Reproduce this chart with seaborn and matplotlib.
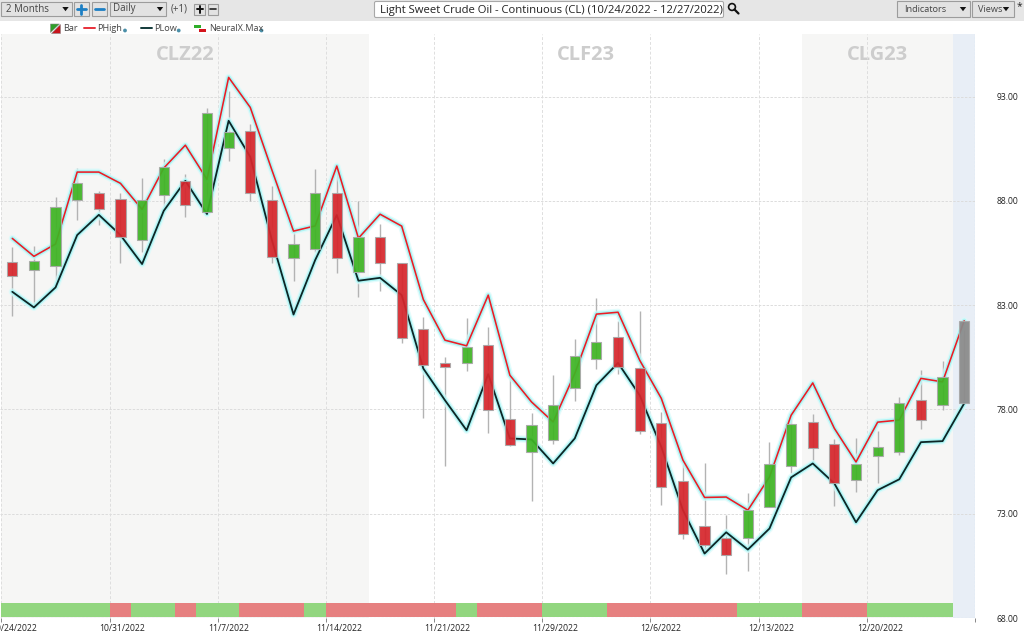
import matplotlib
matplotlib.use("Agg")
import matplotlib.pyplot as plt
import matplotlib.patheffects as pe
from matplotlib.patches import Rectangle, Polygon, Circle, FancyBboxPatch
from matplotlib.transforms import offset_copy
import numpy as np
import pandas as pd
import seaborn as sns

open_ = [85.08,84.69,84.87,88.02,88.40,88.08,86.10,88.28,88.95,87.47,90.54,91.36,88.04,85.27,85.67,88.40,
         84.58,86.26,85.00,81.85,80.23,80.22,81.10,77.52,75.95,76.54,79.02,80.42,81.48,80.01,77.36,74.56,
         72.40,71.84,71.83,73.30,75.29,77.39,76.32,74.61,75.77,75.98,78.43,78.19,78.29]
close = [84.42,85.12,87.71,88.84,87.60,86.25,88.02,89.63,87.78,92.19,91.31,88.40,85.32,85.91,88.36,85.24,
         86.26,85.00,81.42,80.11,80.04,80.97,77.95,76.29,77.25,78.20,80.55,81.24,80.04,76.96,74.27,72.03,
         71.49,71.04,73.20,75.39,77.29,76.16,74.48,75.37,76.22,78.29,77.50,79.56,82.25]
high = [85.77,85.83,88.19,89.56,88.48,88.36,89.11,89.99,89.28,92.43,93.28,91.68,88.71,86.52,89.51,89.71,
        87.99,86.89,85.01,82.41,80.49,82.36,81.93,79.64,77.85,79.63,81.40,83.35,82.23,82.73,77.88,75.36,
        75.44,72.93,73.99,76.42,77.72,77.80,76.56,76.62,76.96,78.60,79.88,80.33,82.25]
low = [82.47,82.92,83.82,87.08,86.84,85.00,85.56,87.56,87.23,87.32,89.92,88.00,85.00,84.17,85.56,84.55,
       83.40,83.69,81.19,77.59,75.29,79.85,76.85,76.24,73.61,76.32,78.41,79.96,79.69,76.80,73.41,71.78,
       71.11,70.10,70.26,73.30,74.93,75.41,73.39,74.05,74.46,75.81,77.04,77.97,78.29]
phigh = [86.20,85.34,85.93,89.38,89.38,88.84,87.59,89.57,90.67,89.03,93.92,92.48,89.48,86.55,86.80,89.67,
         86.21,87.36,86.79,83.27,81.32,81.05,83.48,79.64,78.36,77.40,79.72,82.57,82.66,80.36,78.53,75.57,
         73.78,73.80,73.17,74.76,77.72,79.27,77.09,75.48,77.39,77.49,79.49,79.32,82.25]
plow = [83.64,82.89,83.85,86.36,87.33,86.36,84.97,87.52,88.96,87.37,91.84,90.11,86.12,82.55,85.16,87.32,
        84.17,84.31,83.48,79.96,78.44,77.00,79.69,76.61,76.56,75.41,76.61,79.16,80.23,78.68,76.20,73.17,
        71.09,72.11,71.28,72.29,74.74,75.41,74.45,72.59,74.13,74.65,76.43,76.48,78.29]
signal = list("GGGGGRGGRGGRRRGRRRRRRGRRRGGGRRRRRRGGGRRRGGGG") + [""]
date_labels = ["10/24/2022","10/31/2022","11/7/2022","11/14/2022","11/21/2022",
               "11/29/2022","12/6/2022","12/13/2022","12/20/2022",""]
date_positions = [-0.5,4.5,9.5,14.5,19.5,24.5,29.5,34.5,39.5,44.5]
price_ticks = [68,73,78,83,88,93]
contracts = ["CLZ22","CLF23","CLG23"]
contract_spans = [(-0.5,16.5),(16.5,36.5),(36.5,43.5)]
contract_fill = ["#f6f6f5","#ffffff","#f6f6f5"]

FONT = "Open Sans"
sns.set_theme(style="white")
plt.rcParams["font.family"] = [FONT, "DejaVu Sans"]

fig = plt.figure(figsize=(10.24, 6.39), dpi=100, facecolor="white")
ax = fig.add_axes([0, (639-618)/639, 975/1024, (618-34)/639])
df = pd.DataFrame({"i": np.arange(len(open_)), "open": open_, "close": close, "high": high,
                   "low": low, "PHigh": phigh, "PLow": plow})
ax.set_xlim(-0.568, 44.5)
ax.set_ylim(68, 96)
ax.set_facecolor("white")

# contract zones
for name, (a, b), c in zip(contracts, contract_spans, contract_fill):
    ax.axvspan(a, b, color=c, lw=0, zorder=0)
    ax.text((a+b)/2, 95.0, name, ha="center", va="center", fontsize=14.5, fontweight="bold",
            color="#cdcdcd", zorder=1)
ax.axvspan(43.5, 44.5, color="#e8eef6", lw=0, zorder=0)

# grid
for yv in price_ticks:
    ax.axhline(yv, color="#dcdcdc", lw=0.7, ls=(0, (2.5, 1.5)), zorder=1)
for xv in date_positions[:-1]:
    ax.axvline(xv, color="#dedede", lw=0.7, ls=(0, (3, 2)), zorder=1)
ax.axvline(44.5, color="#a5cdea", lw=0.8, ls=(0, (2, 1.5)), zorder=1)
ax.axhline(68.02, color="#bcd8ee", lw=0.8, ls=(0, (2, 1.5)), zorder=1)

# lines with glow
glow = [pe.Stroke(linewidth=5.2, foreground="#d8fbfb", alpha=0.7),
        pe.Stroke(linewidth=3.2, foreground="#a8f4f4", alpha=0.9), pe.Normal()]
sns.lineplot(data=df, x="i", y="PHigh", ax=ax, color="#ec1c24", lw=1.15, zorder=3,
             path_effects=glow, errorbar=None, sort=False)
sns.lineplot(data=df, x="i", y="PLow", ax=ax, color="#0c2626", lw=1.3, zorder=3,
             path_effects=glow, errorbar=None, sort=False)

# wicks
ax.vlines(df["i"], df["low"], df["high"], color="#b3b3b3", lw=1.0, zorder=2)

# bodies
GREEN, RED, GRAY = "#3fb424", "#d6262c", "#8a8a8a"
cols = [GREEN if c > o else RED for o, c in zip(open_, close)]
cols[-1] = GRAY
bot = np.minimum(open_, close)
ax.bar(df["i"], np.abs(df["close"]-df["open"]), bottom=bot, width=0.47, color=cols, alpha=0.93,
       edgecolor="#a9a9a9", linewidth=0.8, zorder=4)

# signal strip
strip_col = {"G": "#92d67f", "R": "#e68080"}
for i, s in enumerate(signal):
    if s:
        ax.bar(i, 0.67, bottom=68.03, width=1.0, color=strip_col[s], lw=0, zorder=2.5)

ax.set_xlabel(""); ax.set_ylabel("")
sns.despine(ax=ax, left=True, right=True, top=True, bottom=True)
ax.yaxis.tick_right()
ax.set_yticks(price_ticks)
ax.set_yticklabels([f"{v:.2f}" for v in price_ticks], fontsize=6.2, color="#222222", ha="left")
ax.tick_params(axis="y", length=0, pad=15.8)
ax.set_xticks(date_positions)
ax.set_xticklabels(date_labels, fontsize=6.2, color="#222222", ha="left")
ax.tick_params(axis="x", length=3, width=0.7, color="#888888", pad=1.2, bottom=True)
for lab in ax.get_xticklabels():
    lab.set_transform(offset_copy(lab.get_transform(), fig=fig, x=-10, y=0, units="dots"))
ax.patch.set_clip_on(False)

# application chrome, in pixels
ui = fig.add_axes([0, 0, 1, 1], zorder=10)
ui.set_xlim(0, 1024); ui.set_ylim(639, 0); ui.axis("off"); ui.patch.set_alpha(0)
ui.add_patch(Rectangle((0, 0), 1024, 20.5, fc="#e6e6e6", ec="none"))

def box(x0, x1, y0=2, y1=16, fc="#e2e2e2", ec="#9c9c9c"):
    ui.add_patch(Rectangle((x0, y0), x1-x0, y1-y0, fc=fc, ec=ec, lw=0.8))

def tri(x, y=9, s=3.2):
    ui.add_patch(Polygon([(x-s, y-2), (x+s, y-2), (x, y+2.2)], fc="#111111", ec="none"))

def label(x, y, s, size=7, color="#444444", ha="left", **kw):
    ui.text(x, y, s, fontsize=size, color=color, ha=ha, va="center", **kw)

box(1, 71.5); label(5.5, 9, "2 Months"); tri(65.5)
box(73.5, 88.5); box(92, 106.5)
ui.plot([76.5, 85.5], [9, 9], color="#1c7fc4", lw=2)
ui.plot([81, 81], [4.5, 13.5], color="#1c7fc4", lw=2)
ui.plot([94.5, 103.5], [9, 9], color="#1c7fc4", lw=2)
box(109.5, 166); label(113.5, 9, "Daily"); tri(160)
label(171, 9, "(+1)")
box(194, 205, 4, 14.5); box(207.5, 218, 4, 14.5)
ui.plot([196.5, 203], [9.2, 9.2], color="#111111", lw=1.4)
ui.plot([199.7, 199.7], [6, 12.5], color="#111111", lw=1.4)
ui.plot([210, 216], [9.2, 9.2], color="#222222", lw=1.2)

ui.add_patch(FancyBboxPatch((374.5, 1.5), 349, 16, boxstyle="round,pad=0,rounding_size=1.5",
                            fc="white", ec="#a8a8a8", lw=0.8))
label(379.5, 10, "Light Sweet Crude Oil - Continuous (CL) (10/24/2022 - 12/27/2022)", size=8.1, color="#222222")
ui.add_patch(Circle((732, 7), 3.4, fc="none", ec="#111111", lw=1.2))
ui.plot([734.5, 738.5], [9.5, 13.5], color="#111111", lw=1.6)

box(896.5, 969.5, 0.5, 17); label(904, 9, "Indicators", size=6.6); tri(963)
box(971.5, 1014, 0.5, 17); label(978, 9, "Views", size=6.6); tri(1006)
label(1017, 7, "*", size=7.5, color="#222222")

# legend row
ui.add_patch(Polygon([(50.5, 24), (59.5, 24), (50.5, 32.5)], fc="#2f9e2a", ec="#888888", lw=0.4))
ui.add_patch(Polygon([(59.5, 24), (59.5, 32.5), (50.5, 32.5)], fc="#c8141c", ec="#888888", lw=0.4))
label(63.5, 28.3, "Bar", size=6.6)
ui.plot([84, 95], [28.3, 28.3], color="#e8303a", lw=1.4)
label(97.5, 28.3, "PHigh", size=6.6)
ui.plot([141, 152], [28.3, 28.3], color="#123a3a", lw=1.4)
label(154.5, 28.3, "PLow", size=6.6)
ui.add_patch(Rectangle((194, 25), 6.5, 3.2, fc="#2fae2a", ec="none"))
ui.add_patch(Rectangle((199, 28.5), 6.5, 3.2, fc="#d4141c", ec="none"))
label(209, 28.3, "NeuralX.Max", size=6.6)
for xd in (125, 178.7, 261.5):
    ui.add_patch(Circle((xd, 30.5), 1.9, fc="#4a8fa8", ec="none"))

fig.savefig("out.png", dpi=100, facecolor="white")
